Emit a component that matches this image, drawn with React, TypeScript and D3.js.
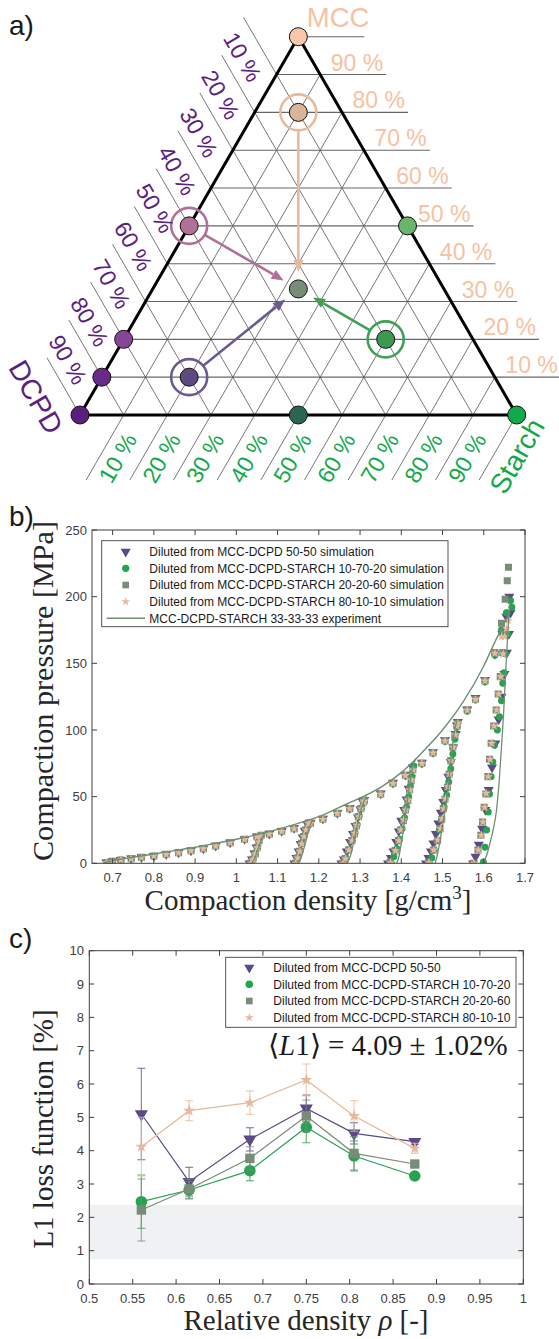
import React from "react";
import * as d3 from "d3";

// ================= Panel a: ternary diagram =================
const ternaryTicks = [0.1, 0.2, 0.3, 0.4, 0.5, 0.6, 0.7, 0.8, 0.9];
const ternaryTickLabels = ["10 %", "20 %", "30 %", "40 %", "50 %", "60 %", "70 %", "80 %", "90 %"];
const componentNames = ["MCC", "DCPD", "Starch"];
const componentColors = ["#f6c2a2", "#5b2180", "#13a84b"];

// compositions as [MCC, DCPD, Starch]
const ternaryDots: { c: number[]; fill: string }[] = [
  { c: [1, 0, 0], fill: "#f9c8a8" },
  { c: [0.8, 0.1, 0.1], fill: "#d8b49a" },
  { c: [0.5, 0.5, 0], fill: "#b07098" },
  { c: [0.5, 0, 0.5], fill: "#6ab46c" },
  { c: [0.2, 0.8, 0], fill: "#874597" },
  { c: [0.1, 0.9, 0], fill: "#6a2a88" },
  { c: [0.1, 0.7, 0.2], fill: "#5e4a80" },
  { c: [0.2, 0.2, 0.6], fill: "#3a9a52" },
  { c: [1 / 3, 1 / 3, 1 / 3], fill: "#788c78" },
  { c: [0, 0.5, 0.5], fill: "#2a6650" },
  { c: [0, 1, 0], fill: "#5a1e7c" },
  { c: [0, 0, 1], fill: "#10aa4a" },
];
const ringedSources: { c: number[]; color: string }[] = [
  { c: [0.8, 0.1, 0.1], color: "#e6bb9c" },
  { c: [0.5, 0.5, 0], color: "#b07098" },
  { c: [0.1, 0.7, 0.2], color: "#6a5a8e" },
  { c: [0.2, 0.2, 0.6], color: "#40a056" },
];
const ternaryTarget = [1 / 3, 1 / 3, 1 / 3];

// ================= Panel b: compaction curves =================
type P = [number, number];
const expEnvelope: P[] = [
  [0.68, 0.5], [0.7, 2], [0.75, 4.5], [0.8, 7], [0.85, 9.5], [0.9, 12], [0.95, 15], [1.0, 18],
  [1.05, 21.5], [1.1, 25.5], [1.15, 30], [1.2, 35], [1.25, 42], [1.3, 49], [1.35, 57], [1.4, 68],
  [1.45, 83], [1.5, 100], [1.55, 121], [1.6, 148], [1.63, 168], [1.66, 186],
];
const expBranches: P[][] = [
  [[1.038, 0], [1.046, 5], [1.054, 12], [1.062, 19], [1.068, 22]],
  [[1.15, 0], [1.159, 6], [1.168, 16], [1.176, 26], [1.184, 32]],
  [[1.268, 0], [1.276, 5], [1.284, 15], [1.293, 28], [1.302, 40], [1.31, 47], [1.316, 51]],
  [[1.389, 0], [1.395, 6], [1.401, 17], [1.408, 32], [1.414, 45], [1.421, 60], [1.428, 72], [1.436, 79]],
  [[1.482, 0], [1.488, 7], [1.494, 17], [1.502, 32], [1.51, 47], [1.516, 64], [1.522, 82], [1.528, 97], [1.535, 107]],
  [[1.599, 0], [1.607, 6], [1.615, 15], [1.624, 27], [1.631, 40], [1.637, 60], [1.643, 87], [1.648, 112], [1.652, 137], [1.656, 160], [1.661, 185], [1.664, 193]],
];

const triEnvelope: P[] = [
  [0.685, 0.6], [0.7, 1.6], [0.72, 2.6], [0.745, 3.6], [0.77, 4.6], [0.8, 5.6], [0.83, 6.9], [0.86, 8.1],
  [0.89, 9.6], [0.92, 11.2], [0.95, 13.2], [0.985, 15.7], [1.02, 18.2], [1.05, 20.2], [1.08, 22.3],
  [1.11, 24.3], [1.14, 26.5], [1.18, 30.4], [1.21, 33.5], [1.245, 37.8], [1.275, 41.5], [1.31, 47.5],
  [1.35, 52.5], [1.38, 60.5], [1.41, 66.5], [1.45, 75.5], [1.477, 83.5], [1.506, 92.5], [1.535, 103.5],
  [1.56, 115.5], [1.58, 124], [1.603, 137.5], [1.627, 157], [1.645, 172], [1.655, 185], [1.662, 200],
];
const triBranches: P[][] = [
  [[1.032, 0], [1.038, 3], [1.044, 7.5], [1.049, 12], [1.054, 16.5], [1.059, 20.5]],
  [[1.141, 0], [1.146, 4], [1.151, 9], [1.156, 14.5], [1.161, 19.5], [1.166, 24.5], [1.172, 29.5]],
  [[1.255, 0], [1.261, 3], [1.268, 9], [1.276, 16], [1.283, 22], [1.289, 28], [1.295, 34.5], [1.301, 40.5], [1.307, 46]],
  [[1.368, 0], [1.375, 4], [1.381, 9], [1.388, 16], [1.394, 24], [1.4, 32], [1.407, 40], [1.413, 48], [1.418, 56], [1.423, 64], [1.428, 72]],
  [[1.46, 0], [1.466, 4], [1.472, 9], [1.478, 15], [1.484, 22], [1.49, 30], [1.496, 38], [1.502, 46], [1.508, 55], [1.514, 65], [1.52, 76], [1.526, 87], [1.532, 97], [1.537, 106]],
  [[1.574, 0], [1.58, 5], [1.588, 14], [1.596, 26], [1.604, 40], [1.612, 55], [1.62, 72], [1.628, 90], [1.636, 108], [1.643, 125], [1.65, 142], [1.656, 158], [1.661, 172], [1.665, 188]],
];

const circEnvelope: P[] = [
  [0.685, 0.5], [0.7, 1.4], [0.72, 2.4], [0.745, 3.4], [0.77, 4.4], [0.8, 5.5], [0.83, 6.7], [0.86, 7.9],
  [0.89, 9.4], [0.92, 11], [0.95, 12.9], [0.985, 15.4], [1.02, 17.8], [1.05, 19.8], [1.08, 21.8],
  [1.11, 23.8], [1.14, 25.9], [1.18, 29.8], [1.21, 32.8], [1.245, 37.2], [1.275, 40.8], [1.31, 46.5],
  [1.35, 51.5], [1.38, 59.5], [1.41, 65.5], [1.45, 74.5], [1.477, 82.5], [1.506, 91.5], [1.535, 102],
  [1.56, 114], [1.58, 122.5], [1.603, 136], [1.627, 156], [1.643, 175], [1.655, 188], [1.665, 197],
];
const circBranches: P[][] = [
  [[1.036, 0], [1.041, 3.5], [1.047, 8], [1.052, 12.5], [1.056, 17], [1.061, 21]],
  [[1.145, 0], [1.15, 4.5], [1.155, 9.5], [1.16, 15], [1.165, 20.5], [1.17, 25.5], [1.176, 30.5]],
  [[1.26, 0], [1.266, 4], [1.274, 10.5], [1.282, 17.5], [1.288, 23], [1.293, 29], [1.298, 35.5], [1.304, 41.5], [1.31, 46.5]],
  [[1.376, 0], [1.382, 5], [1.389, 11], [1.396, 18], [1.402, 26], [1.408, 34], [1.413, 42], [1.418, 50], [1.422, 58], [1.426, 65], [1.43, 73]],
  [[1.468, 0], [1.474, 4], [1.48, 10], [1.486, 17], [1.492, 25], [1.498, 33], [1.504, 42], [1.51, 51], [1.515, 61], [1.52, 71], [1.525, 82], [1.53, 93], [1.535, 103]],
  [[1.599, 1], [1.603, 12], [1.607, 25], [1.611, 38.5], [1.614, 52], [1.618, 65], [1.622, 76], [1.626, 88.5], [1.633, 100], [1.638, 110], [1.643, 122], [1.646, 135], [1.649, 143], [1.653, 157], [1.658, 172], [1.668, 192]],
];

const sqEnvelope: P[] = [
  [0.685, 0.5], [0.7, 1.5], [0.72, 2.5], [0.745, 3.5], [0.77, 4.5], [0.8, 5.5], [0.83, 6.8], [0.86, 8],
  [0.89, 9.5], [0.92, 11], [0.95, 13], [0.985, 15.5], [1.02, 18], [1.05, 20], [1.08, 22], [1.11, 24],
  [1.14, 26], [1.18, 30], [1.21, 33], [1.245, 37.5], [1.275, 41], [1.31, 47], [1.35, 52], [1.38, 60],
  [1.41, 66], [1.45, 75], [1.477, 83], [1.506, 92], [1.535, 103], [1.56, 115], [1.58, 123], [1.603, 137],
  [1.627, 158], [1.643, 180], [1.652, 198], [1.657, 212], [1.66, 222],
];
const sqBranches: P[][] = [
  [[1.034, 0], [1.04, 3], [1.046, 7], [1.051, 12], [1.055, 17], [1.06, 21]],
  [[1.143, 0], [1.148, 4], [1.153, 9], [1.158, 15], [1.163, 20], [1.168, 25], [1.174, 30]],
  [[1.258, 0], [1.264, 3.5], [1.272, 10], [1.28, 17], [1.286, 22], [1.291, 28], [1.296, 35], [1.302, 41], [1.308, 46]],
  [[1.373, 1], [1.385, 9.5], [1.393, 17], [1.398, 25], [1.405, 32], [1.41, 40], [1.416, 47], [1.42, 55], [1.424, 62], [1.428, 70]],
  [[1.466, 1], [1.478, 10], [1.488, 17], [1.494, 26], [1.498, 33], [1.502, 41], [1.506, 48], [1.512, 57], [1.516, 67], [1.52, 77], [1.525, 87], [1.53, 96], [1.536, 105]],
  [[1.575, 0], [1.586, 10], [1.593, 21], [1.597, 31], [1.601, 42], [1.605, 52], [1.61, 65], [1.614, 78], [1.618, 90], [1.624, 103], [1.63, 115], [1.635, 127], [1.64, 140], [1.646, 158], [1.65, 172]],
];

const starEnvelope: P[] = [
  [0.685, 0.4], [0.7, 1.4], [0.72, 2.4], [0.745, 3.4], [0.77, 4.4], [0.8, 5.4], [0.83, 6.7], [0.86, 7.9],
  [0.89, 9.4], [0.92, 10.9], [0.95, 12.9], [0.985, 15.4], [1.02, 17.9], [1.05, 19.9], [1.08, 21.9],
  [1.11, 23.9], [1.14, 25.9], [1.18, 29.9], [1.21, 32.9], [1.245, 37.4], [1.275, 40.9], [1.31, 46.8],
  [1.35, 51.8], [1.38, 59.8], [1.41, 65.8], [1.45, 74.8], [1.477, 82.8], [1.506, 91.8], [1.535, 102.8],
  [1.56, 114.8], [1.58, 122.8], [1.603, 136.8], [1.627, 157.5], [1.643, 170], [1.655, 176], [1.66, 182],
];
const starBranches: P[][] = [
  [[1.035, 0], [1.041, 3], [1.046, 7], [1.051, 11.5], [1.055, 16], [1.06, 20.5]],
  [[1.144, 0], [1.149, 4], [1.154, 9], [1.159, 14.5], [1.164, 20], [1.169, 25], [1.175, 30]],
  [[1.259, 0], [1.265, 3.5], [1.273, 10], [1.281, 17], [1.287, 22.5], [1.292, 28.5], [1.297, 35], [1.303, 41], [1.309, 46]],
  [[1.374, 0.5], [1.386, 9.5], [1.394, 17], [1.399, 25], [1.406, 32.5], [1.411, 40], [1.417, 47.5], [1.421, 55], [1.425, 62.5], [1.429, 70]],
  [[1.467, 0.5], [1.479, 10], [1.489, 17.5], [1.495, 26], [1.499, 33.5], [1.503, 41], [1.507, 48.5], [1.513, 57.5], [1.517, 67], [1.521, 77], [1.526, 87], [1.531, 96.5], [1.537, 105]],
  [[1.576, 0], [1.587, 10], [1.594, 21], [1.598, 31], [1.602, 42], [1.606, 52.5], [1.611, 65], [1.615, 78], [1.619, 90], [1.625, 103], [1.631, 115], [1.636, 127], [1.641, 140], [1.647, 157], [1.651, 170]],
];

const bXTicks = [0.7, 0.8, 0.9, 1.0, 1.1, 1.2, 1.3, 1.4, 1.5, 1.6, 1.7];
const bYTicks = [0, 50, 100, 150, 200, 250];
const bLegend = [
  "Diluted from MCC-DCPD 50-50 simulation",
  "Diluted from MCC-DCPD-STARCH 10-70-20 simulation",
  "Diluted from MCC-DCPD-STARCH 20-20-60 simulation",
  "Diluted from MCC-DCPD-STARCH 80-10-10 simulation",
  "MCC-DCPD-STARCH 33-33-33 experiment",
];

// ================= Panel c: L1 loss =================
const relDensity = [0.56, 0.615, 0.685, 0.75, 0.805, 0.875];
const l1Tri = [5.1, 3.07, 4.34, 5.27, 4.52, 4.27];
const l1TriErr = [1.37, 0.43, 0.35, 0.4, 0.32, 0.08];
const l1Circ = [2.47, 2.82, 3.4, 4.7, 3.84, 3.24];
const l1CircErr = [0.8, 0.25, 0.3, 0.46, 0.45, 0.05];
const l1Sq = [2.22, 2.85, 3.77, 5.04, 3.92, 3.6];
const l1SqErr = [0.93, 0.3, 0.35, 0.48, 0.5, 0.05];
const l1Star = [4.12, 5.2, 5.44, 6.12, 5.04, 4.07];
const l1StarErr = [0.88, 0.3, 0.35, 0.48, 0.46, 0.15];
const expBand = [0.75, 2.37];
const cXTicks = [0.5, 0.55, 0.6, 0.65, 0.7, 0.75, 0.8, 0.85, 0.9, 0.95, 1];
const cYTicks = [0, 1, 2, 3, 4, 5, 6, 7, 8, 9, 10];
const cLegend = [
  "Diluted from MCC-DCPD 50-50",
  "Diluted from MCC-DCPD-STARCH 10-70-20",
  "Diluted from MCC-DCPD-STARCH 20-20-60",
  "Diluted from MCC-DCPD-STARCH 80-10-10",
];

const COL_TRI = "#5b4a85";
const COL_CIRC = "#27a24f";
const COL_SQ = "#788c78";
const COL_STAR = "#e6b99a";
const COL_EXP = "#6f8f73";
const AX = "#404040";
const SANS = "'Liberation Sans', Arial, Helvetica, sans-serif";
const SERIF = "'Liberation Serif', 'Times New Roman', serif";

// ternary geometry
const TW = 436.7, TH = 378.3, TLX = 80, TLY = 415;
function tp(m: number, s: number): [number, number] {
  return [TLX + (s + m / 2) * TW, TLY - m * TH];
}
const tc = (c: number[]) => tp(c[0], c[2]);

function symPath(type: d3.SymbolType, size: number) {
  return d3.symbol().type(type).size(size)() || "";
}

function Marker({ kind, x, y, size, color }: { kind: string; x: number; y: number; size: number; color: string }) {
  if (kind === "tri")
    return <path d={symPath(d3.symbolTriangle, size)} transform={`translate(${x},${y}) rotate(180)`} fill={color} />;
  if (kind === "circ") return <path d={symPath(d3.symbolCircle, size)} transform={`translate(${x},${y})`} fill={color} />;
  if (kind === "sq") return <path d={symPath(d3.symbolSquare, size)} transform={`translate(${x},${y})`} fill={color} />;
  return <path d={symPath(d3.symbolStar, size)} transform={`translate(${x},${y})`} fill={color} />;
}

function Ternary() {
  const T = tp(1, 0), Lv = tp(0, 0), R = tp(0, 1);
  const lines: JSX.Element[] = [];
  ternaryTicks.forEach((k, i) => {
    const a = tp(k, 0), b = tp(k, 1 - k);
    lines.push(<line key={"m" + i} x1={a[0]} y1={a[1]} x2={b[0] + 66} y2={b[1]} stroke="#666" strokeWidth={1.1} />);
    const c = tp(1 - k, 0), d = tp(0, 1 - k);
    lines.push(<line key={"d" + i} x1={c[0] - 33} y1={c[1] - 57.2} x2={d[0]} y2={d[1]} stroke="#4a4a4a" strokeWidth={0.75} />);
    const e = tp(0, k), f = tp(1 - k, k);
    lines.push(<line key={"s" + i} x1={e[0] - 37.5} y1={e[1] + 65} x2={f[0]} y2={f[1]} stroke="#4a4a4a" strokeWidth={0.75} />);
  });
  lines.push(<line key="mv" x1={T[0]} y1={T[1]} x2={T[0] + 66} y2={T[1]} stroke="#666" strokeWidth={1.1} />);
  lines.push(<line key="dv" x1={Lv[0]} y1={Lv[1]} x2={Lv[0] - 33} y2={Lv[1] - 57.2} stroke="#4a4a4a" strokeWidth={0.75} />);
  lines.push(<line key="sv" x1={R[0]} y1={R[1]} x2={R[0] - 37.5} y2={R[1] + 65} stroke="#4a4a4a" strokeWidth={0.75} />);

  const labels: JSX.Element[] = [];
  ternaryTicks.forEach((k, i) => {
    const b = tp(k, 1 - k);
    labels.push(
      <text key={"ml" + i} x={b[0] + 10.5} y={b[1] - 4} fontSize={23} fill={componentColors[0]} fontFamily={SANS}>
        {ternaryTickLabels[i]}
      </text>
    );
    const c = tp(1 - k, 0);
    labels.push(
      <text key={"dl" + i} transform={`translate(${c[0] - 34},${c[1] - 17.5}) rotate(60)`} textAnchor="middle" dy="0.35em"
        fontSize={23} fill={componentColors[1]} fontFamily={SANS}>
        {ternaryTickLabels[i]}
      </text>
    );
    const e = tp(0, k);
    labels.push(
      <text key={"sl" + i} transform={`translate(${e[0] - 6},${e[1] + 43}) rotate(-60)`} textAnchor="middle" dy="0.35em"
        fontSize={23} fill={componentColors[2]} fontFamily={SANS}>
        {ternaryTickLabels[i]}
      </text>
    );
  });
  labels.push(<text key="MCC" x={T[0] + 8.4} y={T[1] - 10} fontSize={27.5} fill={componentColors[0]} fontFamily={SANS}>{componentNames[0]}</text>);
  labels.push(
    <text key="DCPD" transform={`translate(${Lv[0] - 44},${Lv[1] - 18}) rotate(60)`} textAnchor="middle" dy="0.35em" fontSize={28}
      fill={componentColors[1]} fontFamily={SANS}>{componentNames[1]}</text>
  );
  labels.push(
    <text key="Starch" transform={`translate(${R[0] + 0},${R[1] + 41}) rotate(-60)`} textAnchor="middle" dy="0.35em" fontSize={28}
      fill={componentColors[2]} fontFamily={SANS}>{componentNames[2]}</text>
  );

  const target = tc(ternaryTarget);
  const arrows = ringedSources.map((r, i) => {
    const s = tc(r.c);
    const dx = target[0] - s[0], dy = target[1] - s[1];
    const len = Math.hypot(dx, dy);
    const ux = dx / len, uy = dy / len;
    const start = [s[0] + ux * 18, s[1] + uy * 18];
    const tip = [target[0] - ux * 17, target[1] - uy * 17];
    const base = [tip[0] - ux * 12, tip[1] - uy * 12];
    const px = -uy, py = ux;
    const head = `M${tip[0]},${tip[1]}L${base[0] + px * 5},${base[1] + py * 5}L${base[0] - px * 5},${base[1] - py * 5}Z`;
    return (
      <g key={"ar" + i}>
        <circle cx={s[0]} cy={s[1]} r={18} fill="none" stroke={r.color} strokeWidth={2.6} />
        <line x1={start[0]} y1={start[1]} x2={base[0]} y2={base[1]} stroke={r.color} strokeWidth={2.6} />
        <path d={head} fill={r.color} />
      </g>
    );
  });

  return (
    <g>
      {lines}
      <path d={`M${T[0]},${T[1]}L${Lv[0]},${Lv[1]}L${R[0]},${R[1]}Z`} fill="none" stroke="#000" strokeWidth={3} strokeLinejoin="miter" />
      {arrows}
      {ternaryDots.map((p, i) => {
        const q = tc(p.c);
        return <circle key={"dot" + i} cx={q[0]} cy={q[1]} r={9} fill={p.fill} stroke="#111" strokeWidth={1} />;
      })}
      {labels}
    </g>
  );
}

function PanelB() {
  const x = d3.scaleLinear().domain([0.65, 1.7]).range([92, 525]);
  const y = d3.scaleLinear().domain([0, 250]).range([863.3, 530]);
  const line = d3.line<P>().x((d) => x(d[0])).y((d) => y(d[1])).curve(d3.curveMonotoneX);
  const [x0, x1] = x.range();
  const [y0, y1] = y.range();
  const series = [
    { kind: "tri", color: COL_TRI, size: 44, pts: [triEnvelope, ...triBranches].flat() },
    { kind: "circ", color: COL_CIRC, size: 38, pts: [circEnvelope, ...circBranches].flat() },
    { kind: "sq", color: COL_SQ, size: 50, pts: [sqEnvelope, ...sqBranches].flat() },
    { kind: "star", color: COL_STAR, size: 26, pts: [starEnvelope, ...starBranches].flat() },
  ];
  const legendY = [551.7, 568.3, 585, 601.7, 618.3];
  return (
    <g>
      <defs>
        <clipPath id="clipB"><rect x={x0} y={y1} width={x1 - x0} height={y0 - y1} /></clipPath>
      </defs>
      <g clipPath="url(#clipB)">
        {series.map((s) =>
          s.pts.map((p, i) => <Marker key={s.kind + i} kind={s.kind} x={x(p[0])} y={y(p[1])} size={s.size} color={s.color} />)
        )}
        <path d={line(expEnvelope) || ""} fill="none" stroke={COL_EXP} strokeWidth={1.4} />
        {expBranches.map((b, i) => <path key={"eb" + i} d={line(b) || ""} fill="none" stroke={COL_EXP} strokeWidth={1.3} />)}
      </g>
      <rect x={x0} y={y1} width={x1 - x0} height={y0 - y1} fill="none" stroke={AX} strokeWidth={1} />
      {bXTicks.map((t) => (
        <g key={"bx" + t}>
          <line x1={x(t)} x2={x(t)} y1={y0} y2={y0 - 5} stroke={AX} />
          <line x1={x(t)} x2={x(t)} y1={y1} y2={y1 + 5} stroke={AX} />
          <text x={x(t)} y={881.5} textAnchor="middle" fontSize={13} fill={AX} fontFamily={SANS}>{String(t)}</text>
        </g>
      ))}
      {bYTicks.map((t) => (
        <g key={"by" + t}>
          <line x1={x0} x2={x0 + 5} y1={y(t)} y2={y(t)} stroke={AX} />
          <line x1={x1} x2={x1 - 5} y1={y(t)} y2={y(t)} stroke={AX} />
          <text x={87} y={y(t)} dy="0.35em" textAnchor="end" fontSize={13} fill={AX} fontFamily={SANS}>{String(t)}</text>
        </g>
      ))}
      <rect x={101.7} y={540.7} width={346.3} height={86} fill="#fff" stroke={AX} strokeWidth={0.9} />
      {bLegend.map((t, i) => (
        <text key={"bl" + i} x={149.3} y={legendY[i]} dy="0.35em" fontSize={12} fill="#1a1a1a" fontFamily={SANS}>{t}</text>
      ))}
      <Marker kind="tri" x={125.7} y={legendY[0]} size={44} color={COL_TRI} />
      <Marker kind="circ" x={125.7} y={legendY[1]} size={42} color={COL_CIRC} />
      <Marker kind="sq" x={125.7} y={legendY[2]} size={44} color={COL_SQ} />
      <Marker kind="star" x={125.7} y={legendY[3]} size={24} color={COL_STAR} />
      <line x1={106.7} x2={145} y1={legendY[4]} y2={legendY[4]} stroke={COL_EXP} strokeWidth={1.4} />
      <text transform="translate(53,691) rotate(-90)" textAnchor="middle" fontSize={29} fill="#262626" fontFamily={SERIF}
        textLength={340} lengthAdjust="spacingAndGlyphs">Compaction pressure [MPa]</text>
      <text x={308} y={910} textAnchor="middle" fontSize={29} fill="#262626" fontFamily={SERIF}>
        Compaction density [g/cm<tspan dy={-11} fontSize={19}>3</tspan><tspan dy={11}>]</tspan>
      </text>
    </g>
  );
}

function PanelC() {
  const x = d3.scaleLinear().domain([0.5, 1]).range([89.3, 523.3]);
  const y = d3.scaleLinear().domain([0, 10]).range([1284, 950.7]);
  const [x0, x1] = x.range();
  const [y0, y1] = y.range();
  const line = d3.line<number>().x((_, i) => x(relDensity[i])).y((d) => y(d));
  const series = [
    { kind: "tri", color: COL_TRI, size: 75, v: l1Tri, e: l1TriErr },
    { kind: "circ", color: COL_CIRC, size: 105, v: l1Circ, e: l1CircErr },
    { kind: "sq", color: COL_SQ, size: 88, v: l1Sq, e: l1SqErr },
    { kind: "star", color: COL_STAR, size: 45, v: l1Star, e: l1StarErr },
  ];
  const legendY = [967.7, 984.3, 1001, 1017.7];
  return (
    <g>
      <rect x={x0} y={y(expBand[1])} width={x1 - x0} height={y(expBand[0]) - y(expBand[1])} fill="#f0f1f3" />
      {series.map((s) => (
        <g key={s.kind}>
          {s.v.map((v, i) => {
            const cx = x(relDensity[i]);
            const top = y(v + s.e[i]), bot = y(v - s.e[i]);
            return (
              <g key={i} stroke={s.color} strokeOpacity={0.65} strokeWidth={1.3}>
                <line x1={cx} x2={cx} y1={top} y2={bot} />
                <line x1={cx - 4} x2={cx + 4} y1={top} y2={top} />
                <line x1={cx - 4} x2={cx + 4} y1={bot} y2={bot} />
              </g>
            );
          })}
          <path d={line(s.v) || ""} fill="none" stroke={s.color} strokeWidth={1.2} />
          {s.v.map((v, i) => (
            <Marker key={"m" + i} kind={s.kind} x={x(relDensity[i])} y={y(v)} size={s.size} color={s.color} />
          ))}
        </g>
      ))}
      <rect x={x0} y={y1} width={x1 - x0} height={y0 - y1} fill="none" stroke={AX} strokeWidth={1} />
      {cXTicks.map((t) => (
        <g key={"cx" + t}>
          <line x1={x(t)} x2={x(t)} y1={y0} y2={y0 - 5} stroke={AX} />
          <line x1={x(t)} x2={x(t)} y1={y1} y2={y1 + 5} stroke={AX} />
          <text x={x(t)} y={1303} textAnchor="middle" fontSize={13} fill={AX} fontFamily={SANS}>{String(t)}</text>
        </g>
      ))}
      {cYTicks.map((t) => (
        <g key={"cy" + t}>
          <line x1={x0} x2={x0 + 5} y1={y(t)} y2={y(t)} stroke={AX} />
          <line x1={x1} x2={x1 - 5} y1={y(t)} y2={y(t)} stroke={AX} />
          <text x={84} y={y(t)} dy="0.35em" textAnchor="end" fontSize={13} fill={AX} fontFamily={SANS}>{String(t)}</text>
        </g>
      ))}
      <rect x={225.7} y={957.3} width={290.3} height={70} fill="#fff" stroke={AX} strokeWidth={0.9} />
      {cLegend.map((t, i) => (
        <text key={"cl" + i} x={273.3} y={legendY[i]} dy="0.35em" fontSize={12} fill="#1a1a1a" fontFamily={SANS}>{t}</text>
      ))}
      <Marker kind="tri" x={249.3} y={legendY[0]} size={45} color={COL_TRI} />
      <Marker kind="circ" x={249.3} y={legendY[1]} size={45} color={COL_CIRC} />
      <Marker kind="sq" x={249.3} y={legendY[2]} size={45} color={COL_SQ} />
      <Marker kind="star" x={249.3} y={legendY[3]} size={25} color={COL_STAR} />
      <text x={268} y={1055} fontSize={29} fill="#1a1a1a" fontFamily={SERIF}>
        ⟨<tspan fontStyle="italic">L</tspan>1⟩ = 4.09 ± 1.02%
      </text>
      <text transform="translate(53,1129) rotate(-90)" textAnchor="middle" fontSize={29} fill="#262626" fontFamily={SERIF}>
        L1 loss function [%]
      </text>
      <text x={306} y={1330} textAnchor="middle" fontSize={29} fill="#262626" fontFamily={SERIF}>
        Relative density <tspan fontStyle="italic">ρ</tspan> [-]
      </text>
    </g>
  );
}

export default function App() {
  return (
    <div style={{ position: "absolute", left: 0, top: 0 }}>
      <svg width={559} height={1339} viewBox="0 0 559 1339" style={{ display: "block", background: "#fff" }}>
        <rect width={559} height={1339} fill="#fff" />
        <text x={9} y={35} fontSize={28} fill="#1a1a1a" fontFamily={SANS}>a)</text>
        <text x={9} y={526} fontSize={28} fill="#1a1a1a" fontFamily={SANS}>b)</text>
        <text x={9} y={948} fontSize={28} fill="#1a1a1a" fontFamily={SANS}>c)</text>
        <Ternary />
        <PanelB />
        <PanelC />
      </svg>
    </div>
  );
}
